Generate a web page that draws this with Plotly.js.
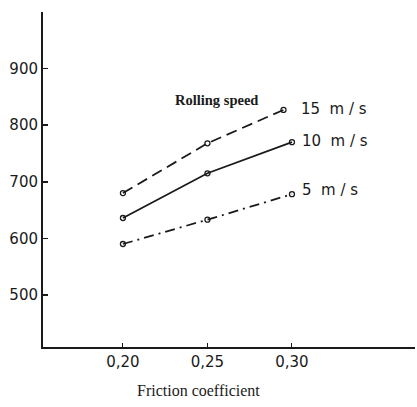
<!DOCTYPE html>
<html>
<head>
<meta charset="utf-8">
<script src="https://cdn.plot.ly/plotly-3.0.1.min.js"></script>
<style>html,body{margin:0;padding:0;background:#fff;}#chart{width:417px;height:407px;}</style>
</head>
<body>
<div id="chart"></div>
<script>
// Data
var frictionX = [0.20, 0.25, 0.30];
var frictionX15 = [0.20, 0.25, 0.295];
var speed15 = [680, 768, 827];
var speed10 = [636, 715, 770];
var speed5 = [590, 633, 678];
var seriesNames = ['15  m / s', '10  m / s', '5  m / s'];
var xTickVals = [0.20, 0.25, 0.30];
var xTickText = ['0,20', '0,25', '0,30'];
var yTickVals = [500, 600, 700, 800, 900];

var ink = '#1a1a1a';
function tr(x, y, dash) {
  return {
    x: x, y: y, type: 'scatter', mode: 'lines+markers',
    line: {color: ink, width: 1.8, dash: dash},
    marker: {symbol: 'circle-open', size: 5, color: ink, line: {width: 1.3, color: ink}},
    showlegend: false, hoverinfo: 'skip'
  };
}
var data = [
  tr(frictionX15, speed15, '11px,6px'),
  tr(frictionX, speed10, 'solid'),
  tr(frictionX, speed5, '10px,5px,2px,5px')
];

var lastX = [frictionX15[2], frictionX[2], frictionX[2]];
var lastY = [speed15[2], speed10[2], speed5[2]];
var annotations = seriesNames.map(function (n, i) {
  return {
    x: lastX[i], y: lastY[i], xref: 'x', yref: 'y', text: n, showarrow: false,
    xanchor: 'left', yanchor: 'middle', xshift: i === 0 ? 15 : 8, yshift: i === 2 ? 4 : 1,
    font: {family: 'DejaVu Sans', size: 15, color: ink}
  };
});
annotations.push({
  x: 0.2555, y: 845, xref: 'x', yref: 'y', text: '<b>Rolling speed</b>', showarrow: false,
  xanchor: 'center', yanchor: 'middle',
  font: {family: 'Liberation Serif', size: 14.5, color: ink}
});
annotations.push({
  x: 0.2445, y: -0.13, xref: 'x', yref: 'paper', text: 'Friction coefficient', showarrow: false,
  xanchor: 'center', yanchor: 'middle',
  font: {family: 'Liberation Serif', size: 16, color: ink}
});

var layout = {
  width: 417, height: 407,
  margin: {l: 43, r: 2, t: 12, b: 60},
  paper_bgcolor: '#fff', plot_bgcolor: '#fff',
  xaxis: {
    range: [0.1527, 0.3728], showgrid: false, zeroline: false,
    showline: true, linecolor: ink, linewidth: 2,
    tickvals: xTickVals, ticktext: xTickText,
    ticks: 'inside', ticklen: 4, tickcolor: ink, tickwidth: 1,
    tickfont: {family: 'DejaVu Sans', size: 15, color: ink}
  },
  yaxis: {
    range: [408, 1000], showgrid: false, zeroline: false,
    showline: true, linecolor: ink, linewidth: 2,
    tickvals: yTickVals,
    ticks: 'inside', ticklen: 5, tickcolor: ink, tickwidth: 1.5,
    tickfont: {family: 'DejaVu Sans', size: 15, color: ink}
  },
  annotations: annotations
};
Plotly.newPlot('chart', data, layout, {staticPlot: true, displayModeBar: false});
</script>
</body>
</html>
